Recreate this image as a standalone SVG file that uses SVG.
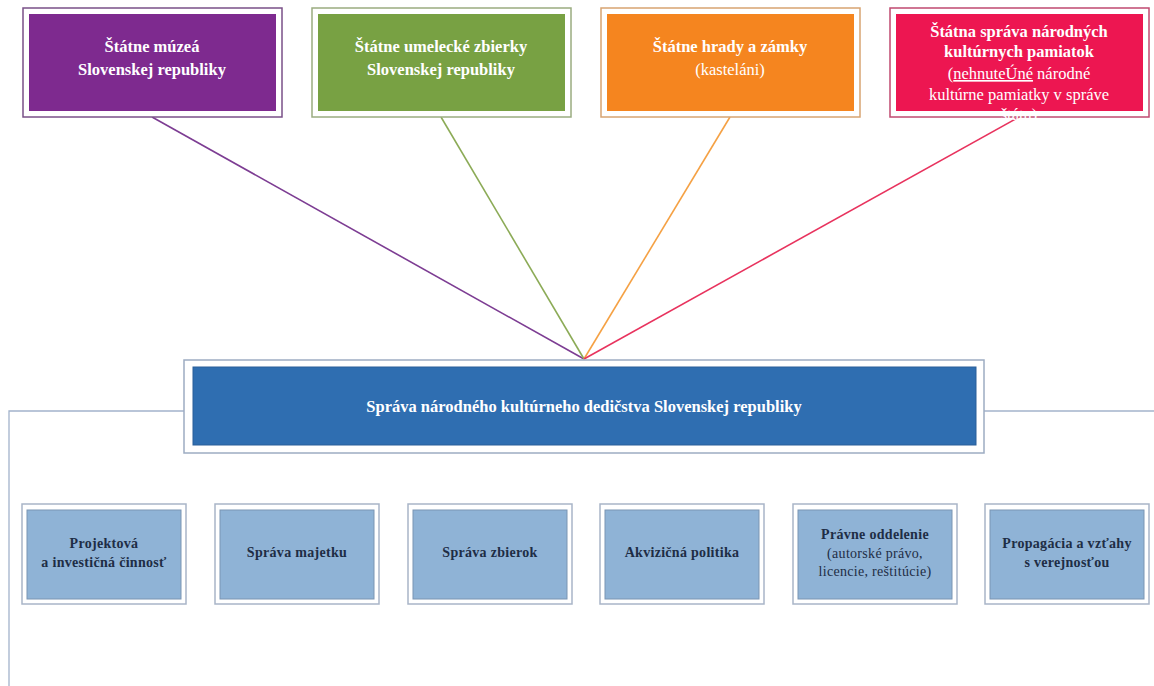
<svg xmlns="http://www.w3.org/2000/svg" width="1154" height="686" viewBox="0 0 1154 686">
<style>
.t{font-family:"Liberation Serif","Times New Roman",serif;text-anchor:middle}
.w{fill:#ffffff}
.b{font-weight:bold}
.top{font-size:16.5px}
.bt{font-size:14px;fill:#1e2d45;letter-spacing:0.3px}
.sub{fill:#ffffff;stroke-width:1.5}
.bo{fill:#ffffff;stroke:#a9b5c8;stroke-width:1.5}
.bi{fill:#8fb3d6;stroke:#7b95b3;stroke-width:1}
.fr{stroke:#a3b3cb;stroke-width:1.3;fill:none}
</style>
<rect width="1154" height="686" fill="#ffffff"/>
<g id="connectors" fill="none" stroke-width="1.6">
<line x1="152" y1="117" x2="584" y2="359" stroke="#7d3d93"/>
<line x1="441" y1="117" x2="584" y2="359" stroke="#8cab57"/>
<line x1="730" y1="117" x2="584" y2="359" stroke="#f5a144"/>
<line x1="1019" y1="117" x2="584" y2="359" stroke="#e8335e"/>
<polyline class="fr" points="184,411 9,411 9,686"/>
<line class="fr" x1="984" y1="411" x2="1154" y2="411"/>
</g>
<g id="n-muzea">
<rect class="sub" x="23" y="8" width="259" height="109" stroke="#7a5088"/>
<rect x="29" y="14" width="247" height="97" fill="#7e2a8f"/>
<text class="t w b top" x="152" y="52">Štátne múzeá</text>
<text class="t w b top" x="152" y="75">Slovenskej republiky</text>
</g>
<g id="n-zbierky">
<rect class="sub" x="312" y="8" width="259" height="109" stroke="#9aac80"/>
<rect x="318" y="14" width="247" height="97" fill="#78a143"/>
<text class="t w b top" x="441" y="52">Štátne umelecké zbierky</text>
<text class="t w b top" x="441" y="75">Slovenskej republiky</text>
</g>
<g id="n-hrady">
<rect class="sub" x="601" y="8" width="259" height="109" stroke="#d7a472"/>
<rect x="607" y="14" width="247" height="97" fill="#f5851f"/>
<text class="t w b top" x="730" y="52">Štátne hrady a zámky</text>
<text class="t w top" x="730" y="75">(kasteláni)</text>
</g>
<g id="n-pamiatky">
<rect class="sub" x="890" y="8" width="259" height="109" stroke="#c04a70"/>
<rect x="896" y="14" width="247" height="97" fill="#ed1651"/>
<text class="t w b top" x="1019" y="37">Štátna správa národných</text>
<text class="t w b top" x="1019" y="57">kultúrnych pamiatok</text>
<text class="t w top" x="1019" y="79">(<tspan text-decoration="underline">nehnuteÚné</tspan> národné</text>
<text class="t w top" x="1019" y="100">kultúrne pamiatky v správe</text>
<text class="t w top" x="1019" y="120">štátu)</text>
</g>
<g id="n-sprava">
<rect x="184" y="360" width="800" height="93" fill="#ffffff" stroke="#9dacc2" stroke-width="1.5"/>
<rect x="193" y="367" width="783" height="78" fill="#2f6eb1" stroke="#2b5f99" stroke-width="1"/>
<text class="t w b" x="584" y="412" font-size="16.5">Správa národného kultúrneho dedičstva Slovenskej republiky</text>
</g>
<g id="n-projekt">
<rect class="bo" x="22" y="504" width="164" height="100"/>
<rect class="bi" x="27" y="510" width="154" height="89"/>
<text class="t b bt" x="104" y="548">Projektová</text>
<text class="t b bt" x="104" y="567">a investičná činnosť</text>
</g>
<g id="n-majetok">
<rect class="bo" x="215" y="504" width="164" height="100"/>
<rect class="bi" x="220" y="510" width="154" height="89"/>
<text class="t b bt" x="297" y="557">Správa majetku</text>
</g>
<g id="n-zbierok">
<rect class="bo" x="408" y="504" width="164" height="100"/>
<rect class="bi" x="413" y="510" width="154" height="89"/>
<text class="t b bt" x="490" y="557">Správa zbierok</text>
</g>
<g id="n-akvizicia">
<rect class="bo" x="600" y="504" width="164" height="100"/>
<rect class="bi" x="605" y="510" width="154" height="89"/>
<text class="t b bt" x="682" y="557">Akvizičná politika</text>
</g>
<g id="n-pravne">
<rect class="bo" x="793" y="504" width="164" height="100"/>
<rect class="bi" x="798" y="510" width="154" height="89"/>
<text class="t b bt" x="875" y="539">Právne oddelenie</text>
<text class="t bt" x="875" y="558">(autorské právo,</text>
<text class="t bt" x="875" y="576">licencie, reštitúcie)</text>
</g>
<g id="n-propagacia">
<rect class="bo" x="985" y="504" width="164" height="100"/>
<rect class="bi" x="990" y="510" width="154" height="89"/>
<text class="t b bt" x="1067" y="548">Propagácia a vzťahy</text>
<text class="t b bt" x="1067" y="567">s verejnosťou</text>
</g>
</svg>
